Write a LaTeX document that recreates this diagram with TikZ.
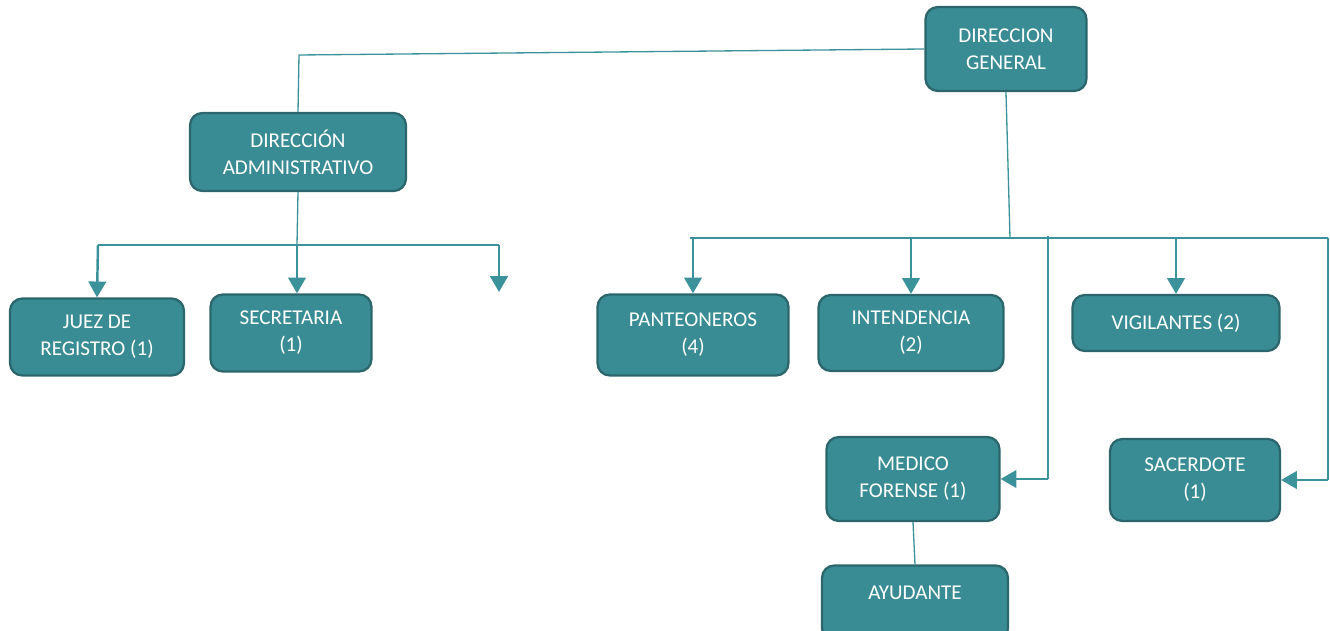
\documentclass[tikz,border=0pt]{standalone}
\usepackage{fontspec}
\setmainfont{Carlito}
\usetikzlibrary{arrows.meta}
\definecolor{tealbox}{HTML}{3A8C94}
\definecolor{tealdark}{HTML}{2B666C}
\definecolor{tealline}{HTML}{3C929A}
\tikzset{
  cargo/.style={draw=tealdark, fill=tealbox, rounded corners=7pt, line width=1.3pt,
    text=white, align=center, inner sep=0pt, font=\fontsize{12}{15.5}\selectfont},
  enlace/.style={draw=tealline, line width=0.75pt},
  flecha/.style={draw=tealline, line width=1.4pt, -{Triangle[length=9pt,width=10pt]}}
}
\begin{document}
\begin{tikzpicture}[x=0.02cm, y=-0.02cm]
            \useasboundingbox (0,0) rectangle (1330,631);
            % cajas
            \node[cargo, minimum width=3.22cm, minimum height=1.68cm] (dg) at (1006,49) {DIRECCION\\GENERAL};
            \node[cargo, minimum width=4.32cm, minimum height=1.56cm] (da) at (298,152) {DIRECCIÓN\\ADMINISTRATIVO};
            \node[cargo, minimum width=3.48cm, minimum height=1.54cm] (juez) at (97,337) {JUEZ DE\\REGISTRO (1)};
            \node[cargo, minimum width=3.22cm, minimum height=1.54cm] (secre) at (291,333) {SECRETARIA\\(1)};
            \node[cargo, minimum width=3.82cm, minimum height=1.62cm] (pant) at (693,335) {PANTEONEROS\\(4)};
            \node[cargo, minimum width=3.70cm, minimum height=1.52cm] (inten) at (911,333) {INTENDENCIA\\(2)};
            \node[cargo, minimum width=4.14cm, minimum height=1.12cm] (vigi) at (1176,323) {VIGILANTES (2)};
            \node[cargo, minimum width=3.46cm, minimum height=1.68cm] (medico) at (913,479) {MEDICO\\FORENSE (1)};
            \node[cargo, minimum width=3.40cm, minimum height=1.64cm] (sacer) at (1195,480) {SACERDOTE\\(1)};
            \node[cargo, minimum width=3.72cm, minimum height=1.50cm] (ayud) at (915,603) {};
            \node[text=white, font=\fontsize{12}{15.5}\selectfont] (ayudtxt) at (915,593) {AYUDANTE};
            % rama administrativa
            \coordinate (codoA) at (299,55);
            \coordinate (barraA) at (297,245);
            \coordinate (barraAi) at (98,245);
            \coordinate (barraAd) at (499,245);
            \coordinate (vacio) at (499,292);
            \draw[enlace] (dg.west) -- (codoA) -- (da.north);
            \draw[enlace] (da.south) -- (barraA);
            \draw[enlace] (barraAi) -- (barraAd);
            \draw[flecha] (barraAi) -- (juez.north);
            \draw[flecha] (barraA) -- (barraA |- secre.north);
            \draw[flecha] (barraAd) -- (vacio);
            % rama general
            \coordinate (barraB) at (1010,238);
            \coordinate (barraBi) at (690,238);
            \coordinate (barraBd) at (1328,238);
            \coordinate (bajadaM) at (1048,236);
            \draw[enlace] (dg.south) -- (barraB);
            \draw[enlace] (barraBi) -- (barraBd);
            \draw[flecha] (pant.north |- barraB) -- (pant.north);
            \draw[flecha] (inten.north |- barraB) -- (inten.north);
            \draw[flecha] (vigi.north |- barraB) -- (vigi.north);
            \draw[enlace] (bajadaM) -- (bajadaM |- medico.east);
            \draw[flecha] (bajadaM |- medico.east) -- (medico.east);
            \draw[enlace] (barraBd) -- (barraBd |- sacer.east);
            \draw[flecha] (barraBd |- sacer.east) -- (sacer.east);
            \draw[enlace] (medico.south) -- (ayud.north);
        \end{tikzpicture}
\end{document}
